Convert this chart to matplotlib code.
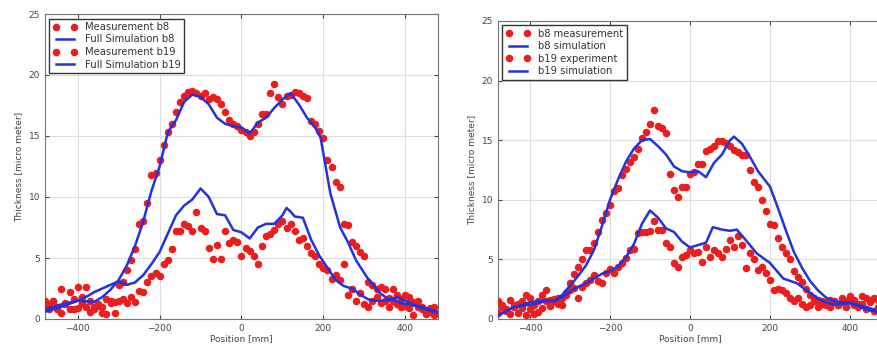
import matplotlib
matplotlib.use("Agg")
import matplotlib.pyplot as plt
import numpy as np

# measurement positions, 10 mm step
pos = np.arange(-480, 480, 10)

# ---- left panel ----
meas_b8_L = [1.5, 1.2, 1.5, 0.8, 2.5, 1.3, 2.2, 0.8, 2.6, 1.8, 2.6, 1.5, 1.0, 1.2, 1.0, 1.6,
             1.5, 1.4, 2.8, 3.0, 4.0, 4.8, 5.7, 7.8, 8.0, 9.5, 11.8, 12.0, 13.0, 14.3, 15.3, 16.0,
             17.0, 17.8, 18.3, 18.6, 18.7, 18.5, 18.3, 18.5, 18.0, 18.2, 18.0, 17.6, 17.0, 16.3, 16.0, 15.8,
             15.5, 15.3, 15.0, 15.3, 16.0, 16.8, 16.8, 18.5, 19.3, 18.2, 17.6, 18.3, 18.4, 18.6, 18.5, 18.3,
             18.1, 16.2, 16.0, 15.4, 14.8, 13.0, 12.5, 11.2, 10.8, 7.8, 7.7, 6.3, 6.0, 5.5, 5.2, 3.0,
             2.8, 2.5, 2.6, 2.5, 1.7, 2.5, 2.0, 1.6, 2.0, 1.8, 1.4, 1.5, 1.0, 0.6, 0.9, 1.0]
meas_b19_L = [1.0, 0.8, 1.5, 1.0, 0.5, 1.2, 0.8, 1.6, 0.9, 1.3, 1.0, 0.6, 0.8, 1.1, 0.5, 0.4,
              1.3, 0.5, 1.5, 1.6, 1.3, 1.8, 1.4, 2.3, 2.2, 3.0, 3.5, 3.8, 3.5, 4.5, 4.8, 5.7,
              7.2, 7.2, 7.8, 7.6, 7.2, 8.8, 7.5, 7.2, 5.8, 4.9, 6.1, 4.9, 7.2, 6.2, 6.5, 6.3,
              5.2, 5.8, 5.6, 5.2, 4.5, 6.0, 6.8, 7.0, 7.3, 7.8, 8.0, 7.5, 7.8, 7.2, 6.5, 6.6,
              6.0, 5.4, 5.2, 4.5, 4.2, 4.0, 3.3, 3.6, 3.2, 4.5, 2.0, 2.5, 1.5, 2.1, 1.2, 1.0,
              1.5, 1.8, 1.3, 1.5, 1.0, 1.5, 1.2, 1.0, 1.1, 0.9, 0.3, 1.0, 0.8, 0.4, 0.6, 0.3]

sim_b8_L_x = [-480, -440, -400, -360, -340, -320, -300, -280, -260, -240, -220, -200, -180, -160,
              -140, -120, -100, -80, -60, -40, -20, 0, 20, 40, 60, 80, 100, 120, 140, 160, 180,
              193, 217, 241, 260, 280, 307, 339, 360, 380, 400, 420, 440, 460, 480]
sim_b8_L = [0.8, 1.2, 1.5, 1.4, 1.8, 2.4, 3.2, 4.4, 6.0, 8.0, 10.5, 12.5, 15.3, 16.3,
            17.8, 18.4, 18.2, 17.6, 16.5, 16.0, 15.8, 15.7, 15.2, 16.1, 16.5, 17.3, 18.0, 18.5, 17.6, 16.5, 15.7,
            14.9, 10.3, 7.5, 6.3, 4.8, 3.4, 2.1, 1.6, 1.8, 1.5, 1.2, 1.0, 0.8, 0.6]
sim_b19_L_x = [-480, -440, -400, -380, -360, -340, -320, -300, -280, -260, -240, -220, -200, -180,
               -160, -140, -120, -100, -80, -60, -40, -20, 0, 20, 40, 60, 80, 100, 110, 120, 130,
               150, 170, 190, 210, 230, 250, 270, 290, 310, 330, 350, 370, 390, 410, 440, 480]
sim_b19_L = [0.6, 1.0, 1.5, 1.8, 2.2, 2.5, 2.8, 3.1, 2.8, 3.0, 3.6, 4.5, 5.5, 7.0,
             8.5, 9.3, 9.8, 10.7, 10.0, 8.6, 8.5, 7.3, 7.1, 6.6, 7.5, 7.8, 7.8, 8.5, 9.1, 8.8, 8.4,
             8.3, 6.5, 5.2, 4.2, 3.2, 2.7, 2.5, 2.0, 1.6, 1.5, 1.5, 1.6, 1.3, 1.2, 0.9, 0.5]

# ---- right panel ----
meas_b8_R = [1.5, 1.2, 0.8, 1.6, 1.0, 1.3, 1.5, 2.0, 1.8, 1.2, 1.5, 2.0, 2.4, 1.6, 1.5, 1.8,
             1.2, 2.2, 3.0, 3.8, 4.4, 5.0, 5.8, 5.8, 6.4, 7.3, 8.3, 8.9, 9.6, 10.7, 11.0, 12.1,
             12.6, 13.2, 13.6, 14.3, 15.2, 15.7, 16.4, 17.5, 16.2, 16.0, 15.6, 12.2, 10.8, 10.2, 11.1, 11.1,
             12.2, 12.3, 13.0, 13.0, 14.1, 14.3, 14.5, 14.9, 14.9, 14.8, 14.5, 14.2, 14.0, 13.8, 13.8, 12.5,
             11.5, 11.1, 10.0, 9.1, 8.0, 7.9, 6.8, 6.0, 5.5, 5.0, 4.0, 3.5, 3.1, 2.5, 2.0, 1.8,
             1.6, 1.5, 1.4, 1.6, 1.5, 1.2, 1.8, 1.5, 1.9, 1.6, 1.3, 1.9, 1.8, 1.4, 1.8, 1.6]
meas_b19_R = [0.5, 1.0, 0.7, 0.4, 1.2, 0.5, 0.9, 0.3, 0.8, 0.4, 0.6, 0.9, 1.5, 1.1, 1.7, 1.3,
              1.8, 2.0, 2.4, 2.6, 1.8, 2.7, 3.0, 3.3, 3.7, 3.2, 3.0, 3.9, 4.2, 3.9, 4.4, 4.7,
              5.1, 5.8, 5.9, 7.2, 7.3, 7.3, 7.4, 8.2, 7.5, 7.5, 6.4, 6.0, 4.7, 4.4, 5.2, 5.4,
              5.8, 5.5, 5.6, 4.8, 6.0, 5.2, 5.8, 5.5, 5.2, 5.9, 6.6, 6.0, 7.0, 6.2, 4.3, 5.5,
              5.0, 4.1, 4.4, 3.9, 3.3, 2.4, 2.5, 2.4, 2.2, 1.8, 1.5, 1.8, 1.3, 1.0, 1.2, 1.5,
              1.0, 1.3, 1.2, 1.0, 1.5, 1.2, 1.4, 1.0, 1.8, 1.2, 1.0, 1.3, 0.8, 1.6, 0.7, 1.0]

sim_b8_R_x = [-480, -440, -400, -360, -340, -320, -300, -280, -260, -240, -220, -200, -180, -160,
              -140, -120, -100, -80, -60, -40, -20, 0, 20, 40, 60, 80, 100, 110, 130, 150, 170,
              200, 220, 240, 260, 280, 300, 320, 340, 360, 380, 400, 420, 440, 460, 480]
sim_b8_R = [0.3, 1.0, 1.4, 1.6, 1.5, 2.0, 2.8, 3.6, 4.5, 5.8, 7.8, 10.0, 11.7, 13.2,
            14.3, 15.0, 15.1, 14.5, 13.8, 12.8, 12.4, 12.3, 12.4, 11.9, 13.1, 13.8, 15.0, 15.3, 14.7, 13.6, 12.4,
            11.1, 9.3, 7.4, 5.6, 4.3, 3.2, 2.4, 1.8, 1.5, 1.4, 1.4, 1.2, 1.0, 0.8, 0.6]
sim_b19_R_x = [-480, -440, -400, -360, -340, -320, -300, -280, -260, -240, -220, -200, -180, -160,
               -140, -120, -100, -80, -60, -40, -20, 0, 20, 40, 57, 80, 100, 117, 140, 167, 200,
               233, 267, 300, 320, 340, 360, 380, 400, 420, 440, 480]
sim_b19_R = [0.3, 1.0, 1.2, 1.5, 1.5, 1.8, 2.3, 2.7, 3.0, 3.4, 3.8, 4.0, 4.4, 5.2,
             6.3, 8.0, 9.1, 8.5, 7.6, 7.3, 6.5, 6.0, 6.2, 6.4, 7.7, 7.5, 7.4, 7.5, 6.6, 5.5, 4.7,
             3.4, 3.0, 2.2, 1.7, 1.4, 1.2, 1.3, 1.3, 1.1, 0.8, 0.5]

labels_L = ["Measurement b8", "Full Simulation b8", "Measurement b19", "Full Simulation b19"]
labels_R = ["b8 measurement", "b8 simulation", "b19 experiment", "b19 simulation"]

RED, BLUE = "#ee1c1c", "#2233dd"
W, H = 878, 351

fig = plt.figure(figsize=(W / 100, H / 100), dpi=100)
ax1 = fig.add_axes([45 / W, 32 / H, (438 - 45) / W, (319 - 14) / H])
ax2 = fig.add_axes([498 / W, 32 / H, (882 - 498) / W, (319 - 21) / H])


def panel(ax, mb8, sx8, sb8, mb19, sx19, sb19, labels):
    ax.plot(pos, mb8, "o", color=RED, mec=RED, ms=4.4, label=labels[0], zorder=3)
    ax.plot(sx8, sb8, "-", color=BLUE, lw=1.8, label=labels[1], zorder=4)
    ax.plot(pos, mb19, "o", color=RED, mec=RED, ms=4.4, label=labels[2], zorder=3)
    ax.plot(sx19, sb19, "-", color=BLUE, lw=1.8, label=labels[3], zorder=4)
    ax.set_xlim(-480, 480); ax.set_ylim(0, 25)
    ax.set_xticks([-400, -200, 0, 200, 400]); ax.set_yticks([0, 5, 10, 15, 20, 25])
    ax.tick_params(direction="in", labelsize=6.5, top=True, right=True, length=3, colors="#444444")
    ax.grid(True, color="#dddddd", lw=0.8)
    ax.set_axisbelow(True)
    for s in ax.spines.values():
        s.set_color("#777777")
    ax.set_xlabel("Position [mm]", fontsize=6.5, color="#444444", labelpad=1)
    ax.set_ylabel("Thickness [micro meter]", fontsize=6.5, color="#444444", labelpad=4)
    leg = ax.legend(loc="upper left", numpoints=2, fontsize=7.2, fancybox=False,
                    handlelength=2.4, borderpad=0.35, labelspacing=0.25, framealpha=1,
                    borderaxespad=0.45)
    leg.get_frame().set_edgecolor("#333333")
    for t in leg.get_texts():
        t.set_color("#333333")


panel(ax1, meas_b8_L, sim_b8_L_x, sim_b8_L, meas_b19_L, sim_b19_L_x, sim_b19_L, labels_L)
panel(ax2, meas_b8_R, sim_b8_R_x, sim_b8_R, meas_b19_R, sim_b19_R_x, sim_b19_R, labels_R)

fig.savefig("out.png", dpi=100)
